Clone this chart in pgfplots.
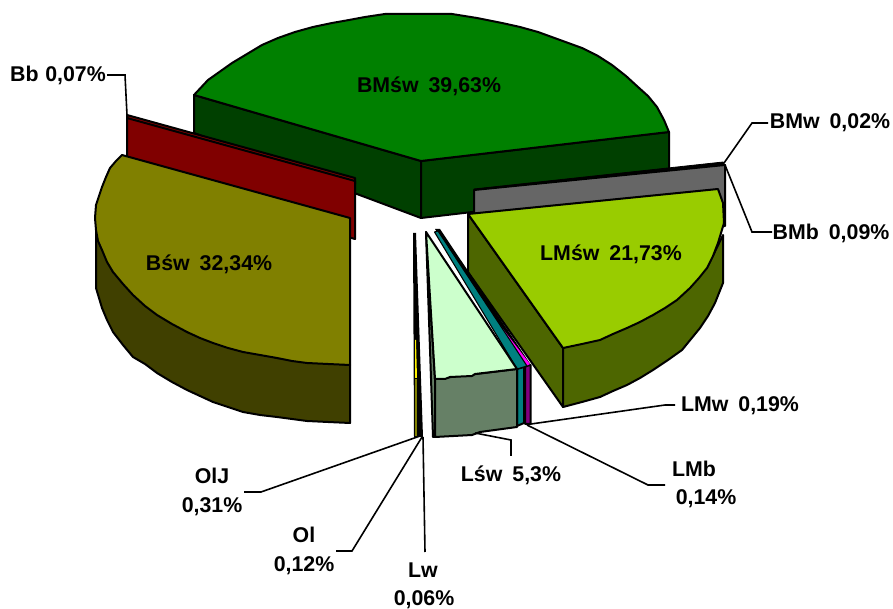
\documentclass[border=0pt]{standalone}
\usepackage{pgfplots}
\usepackage{fontspec}
\setmainfont{Liberation Sans}
\pgfplotsset{compat=1.18}
\definecolor{bmsw}{HTML}{008000}
\definecolor{bmswd}{HTML}{004000}
\definecolor{bmb}{HTML}{666666}
\definecolor{lmsw}{HTML}{99CC00}
\definecolor{lmswd}{HTML}{4D6600}
\definecolor{bsw}{HTML}{808000}
\definecolor{bswd}{HTML}{404000}
\definecolor{bb}{HTML}{800000}
\definecolor{lsw}{HTML}{CCFFCC}
\definecolor{lswd}{HTML}{668066}
\definecolor{teal2}{HTML}{008080}
\definecolor{lmb}{HTML}{FF00FF}
\definecolor{lmbd}{HTML}{800080}
\pgfplotsset{
  slice/.style={fill=#1,draw=black,line width=1.5pt,line join=round,mark=none},
  flat/.style={fill=#1,draw=none,mark=none},
  leader/.style={draw=black,line width=1.2pt,line join=miter,mark=none},
}
\newcommand{\lab}[3]{\node[font=\fontsize{16pt}{18pt}\selectfont\bfseries,inner sep=0pt,anchor=center] at (axis cs:#1,#2) {#3};}
\newcommand{\gap}{\hspace{7.5pt}}
\begin{document}
\begin{tikzpicture}
\begin{axis}[name=pie,hide axis,scale only axis,width=669.75pt,height=456.75pt,
  xmin=0,xmax=893,ymin=0,ymax=609,y dir=reverse,clip=false]
% BMsw: walls, then top
\addplot[slice=bmswd] coordinates {(194,95)(194,133)(421,218)(421,161)} --cycle;
\addplot[slice=bmswd] coordinates {(421,161)(421,218)(669,189)(669,132)} --cycle;
\addplot[slice=bmsw] coordinates {(421,161)(194,95)(208,80)(232,63)(247,54)(262,45)(278,38)(295,32)(313,27)(332,23)(349,20)(365,17)(385,14)(452,14)(477,18)(502,23)(520,27)(538,32)(560,40)(582,48)(598,56)(612,65)(626,76)(638,87)(648,96)(657,107)(664,120)(669,132)} --cycle;
% Bb
\addplot[slice=bb] coordinates {(127,115)(355,178)(355,184)(127,120)} --cycle;
\addplot[slice=bb] coordinates {(127,118)(355,181)(355,239)(127,176)} --cycle;
% BMw and BMb
\addplot[slice=black,line width=.6pt] coordinates {(474,189)(723,162)(725,165)} --cycle;
\addplot[slice=bmb] coordinates {(474,190)(725,165)(725,226)(474,228)} --cycle;
% LMsw
\addplot[slice=lmswd] coordinates {(468,214)(468,272)(563,407)(563,348)} --cycle;
\addplot[slice=lmswd] coordinates {(563,348)(563,407)(582,402)(600,397)(613,391)(627,385)(640,378)(653,370)(668,360)(682,350)(691,339)(700,328)(708,316)(715,303)(719,293)(723,283)(723,235)(707,268)(653,315)} --cycle;
\addplot[slice=lmsw] coordinates {(468,214)(718,189)(723,203)(724,223)(721,233)(718,243)(713,256)(707,268)(699,278)(690,288)(677,300)(665,308)(653,315)(640,322)(627,328)(613,334)(600,340)(582,344)(563,348)} --cycle;
% Bsw
\addplot[slice=bswd] coordinates {(96,230)(96,288)(102,308)(107,320)(113,332)(123,345)(133,357)(145,364)(157,373)(172,382)(187,390)(200,396)(213,402)(228,407)(243,412)(260,415)(277,417)(292,419)(307,421)(328,422)(350,423)(350,365)(277,358)(187,332)(113,272)} --cycle;
\addplot[slice=bsw] coordinates {(350,218)(122,155)(116,161)(110,168)(106,177)(102,187)(99,196)(96,205)(95,218)(96,230)(98,241)(102,250)(107,262)(113,272)(123,284)(133,295)(145,306)(157,315)(172,324)(187,332)(200,338)(213,343)(228,348)(243,352)(260,355)(277,358)(292,361)(307,363)(328,364)(350,365)} --cycle;
% LMb and LMw: dark edge, then the coloured sliver
\addplot[slice=lmbd] coordinates {(525,366)(530.5,365)(530.5,424)(525,424)} --cycle;
\addplot[flat=black] coordinates {(435,229)(440,229)(531,365)(525,368)} --cycle;
\addplot[flat=lmb] coordinates {(493,316)(530,364)(526,366)} --cycle;
% Lw
\addplot[slice=teal2] coordinates {(517,369)(524,367)(524,423)(517,426)} --cycle;
\addplot[fill=teal2,draw=black,line width=.8pt,line join=round,mark=none] coordinates {(434.5,232)(438,231)(527,366)(517,369)} --cycle;
% Lsw
\addplot[slice=lswd] coordinates {(426,232)(435,379)(435,437)(433,437)} --cycle;
\addplot[slice=lswd] coordinates {(435,379)(517,369)(517,427)(480,432)(472,435)(435,437)} --cycle;
\addplot[slice=lsw] coordinates {(426,232)(517,369)(475,374)(472,376)(450,377)(445,379)(435,379)} --cycle;
% OlJ and Ol
\addplot[flat=black] coordinates {(413,233)(416,233)(423,437)(414,437)} --cycle;
\addplot[flat=yellow] coordinates {(415,340)(416,340)(417,378)(415,378)} --cycle;
\addplot[flat=bsw] coordinates {(415,379)(417,379)(417,436)(415,436)} --cycle;
% Leader lines
\addplot[leader] coordinates {(107,75)(125,75)(127,115)};
\addplot[leader] coordinates {(724,163)(752,123)(768,123)};
\addplot[leader] coordinates {(725,165)(752,232)(772,232)};
\addplot[leader] coordinates {(531,424)(665,405)(675,405)};
\addplot[leader] coordinates {(527,425)(648,485)(665,485)};
\addplot[leader] coordinates {(475,433)(511,440)(511,456)};
\addplot[leader] coordinates {(420,436)(261,492)(244,492)};
\addplot[leader] coordinates {(422,437)(352,551)(336,551)};
\addplot[leader] coordinates {(423,437)(425,552)};
% Labels
\lab{429}{86}{BMśw\gap 39,63\%}
\lab{209}{264}{Bśw\gap 32,34\%}
\lab{611}{254}{LMśw\gap 21,73\%}
\lab{58}{75}{Bb\hspace{5pt}0,07\%}
\lab{830}{123}{BMw\gap 0,02\%}
\lab{831}{233}{BMb\gap 0,09\%}
\lab{740}{406}{LMw\gap 0,19\%}
\lab{694}{469}{LMb}
\lab{706}{499}{0,14\%}
\lab{511}{475}{Lśw\gap 5,3\%}
\lab{212}{476}{OlJ}
\lab{212}{507}{0,31\%}
\lab{304}{535}{Ol}
\lab{304}{566}{0,12\%}
\lab{423}{570}{Lw}
\lab{424}{600}{0,06\%}
\end{axis}
\pgfresetboundingbox
\path[use as bounding box] (pie.south west) rectangle (pie.north east);
\end{tikzpicture}
\end{document}
